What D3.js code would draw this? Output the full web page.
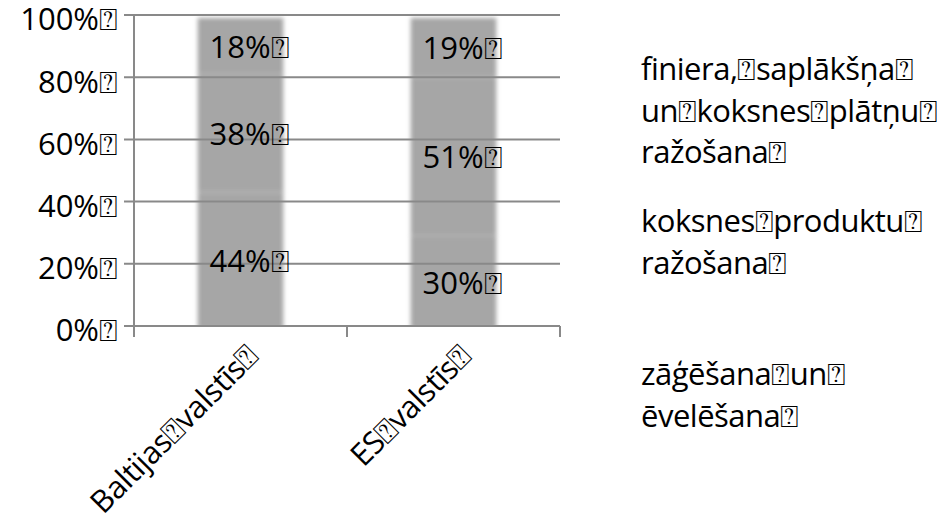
<!DOCTYPE html>
<html>
<head>
<meta charset="utf-8">
<script src="https://cdn.jsdelivr.net/npm/d3@7"></script>
<style>
  body { margin: 0; background: #fff; }
  text { font-family: 'Open Sans', sans-serif; fill: #000; }
</style>
</head>
<body>
<svg id="chart" width="937" height="521"></svg>
<script>
// data (boxes are the missing-glyph marks of the source)
const categories = ['Baltijas⍰valstīs⍰', 'ES⍰valstīs⍰'];
const seriesKeys = ['zagesana', 'koksnes', 'finiera'];
const zagesana = [44, 30];
const koksnes = [38, 51];
const finiera = [18, 19];
const yTicks = [0, 20, 40, 60, 80, 100];
const legendLines = [
  ['finiera,⍰saplākšņa⍰', 'un⍰koksnes⍰plātņu⍰', 'ražošana⍰'],
  ['koksnes⍰produktu⍰', 'ražošana⍰'],
  ['zāģēšana⍰un⍰', 'ēvelēšana⍰']
];

const table = categories.map((c, i) => ({
  cat: c, zagesana: zagesana[i], koksnes: koksnes[i], finiera: finiera[i]
}));

const margin = {top: 15, left: 134},
      width = 426,
      height = 311,
      fontSize = '31px',
      gridCol = '#898989';

const svg = d3.select('#chart');

const defs = svg.append('defs');
const soft = defs.append('filter')
    .attr('id', 'soft')
    .attr('x', '-10%').attr('y', '-5%')
    .attr('width', '120%').attr('height', '110%');
soft.append('feGaussianBlur').attr('stdDeviation', 2.2);
soft.append('feOffset').attr('dy', 3);

defs.append('clipPath')
    .attr('id', 'plotClip')
  .append('rect')
    .attr('x', -5).attr('y', -5)
    .attr('width', width + 10).attr('height', height + 5);

const g = svg.append('g')
             .attr('transform', `translate(${margin.left}, ${margin.top})`);

const x = d3.scaleBand()
            .domain(categories)
            .range([0, width])
            .paddingInner(0.6)
            .paddingOuter(0.3);

const y = d3.scaleLinear()
            .domain([0, 100])
            .range([height, 0]);

const stacked = d3.stack().keys(seriesKeys)(table);

// bars (all the same grey, with soft edges)
const barG = g.append('g')
              .attr('clip-path', 'url(#plotClip)')
              .append('g')
              .attr('filter', 'url(#soft)');
stacked.forEach(layer => {
  barG.selectAll(null)
      .data(layer)
      .enter()
      .append('rect')
        .attr('x', d => x(d.data.cat))
        .attr('y', d => y(d[1]))
        .attr('width', x.bandwidth())
        .attr('height', d => y(d[0]) - y(d[1]))
        .style('fill', '#a6a6a6')
        .style('stroke', '#c4c4c4')
        .style('stroke-width', 0.8);
});

// gridlines drawn over the bars
g.append('g')
  .selectAll('line')
  .data(yTicks)
  .enter()
  .append('line')
    .attr('x1', -10)
    .attr('x2', width)
    .attr('y1', d => y(d))
    .attr('y2', d => y(d))
    .style('stroke', gridCol)
    .style('stroke-width', 2);

// y axis line
g.append('line')
  .attr('x1', 0).attr('x2', 0)
  .attr('y1', y(100)).attr('y2', height + 11)
  .style('stroke', gridCol)
  .style('stroke-width', 2);

// category tick marks at band edges
g.append('g')
  .selectAll('line')
  .data([0, 1, 2])
  .enter()
  .append('line')
    .attr('x1', d => d * width / 2)
    .attr('x2', d => d * width / 2)
    .attr('y1', height)
    .attr('y2', height + 11)
    .style('stroke', gridCol)
    .style('stroke-width', 2);

// y tick labels
g.append('g')
  .selectAll('text')
  .data(yTicks)
  .enter()
  .append('text')
    .attr('x', -16)
    .attr('y', d => y(d) + 4.5)
    .attr('dy', '0.35em')
    .attr('text-anchor', 'end')
    .style('font-size', fontSize)
    .text(d => `${d}%⍰`);

// value labels inside segments
stacked.forEach(layer => {
  g.append('g')
    .selectAll('text')
    .data(layer)
    .enter()
    .append('text')
      .attr('x', d => x(d.data.cat) + x.bandwidth() / 2 + 9)
      .attr('y', d => (y(d[0]) + y(d[1])) / 2 + 4)
      .attr('dy', '0.35em')
      .attr('text-anchor', 'middle')
      .style('font-size', fontSize)
      .text(d => `${d[1] - d[0]}%⍰`);
});

// rotated category labels
g.append('g')
  .selectAll('text')
  .data(categories)
  .enter()
  .append('text')
    .attr('transform', d => `translate(${x(d) + x.bandwidth() / 2 + 20}, ${height + 32}) rotate(-45)`)
    .attr('text-anchor', 'end')
    .style('font-size', fontSize)
    .style('letter-spacing', '-0.5px')
    .text(d => d);

// legend (text only)
const legendTop = [80, 232, 385];
const legend = svg.append('g').attr('transform', 'translate(641, 0)');
legendLines.forEach((lines, i) => {
  lines.forEach((line, j) => {
    legend.append('text')
          .attr('x', 0)
          .attr('y', legendTop[i] + j * 41.5)
          .style('font-size', fontSize)
          .style('letter-spacing', '-0.5px')
          .text(line);
  });
});
</script>
</body>
</html>
